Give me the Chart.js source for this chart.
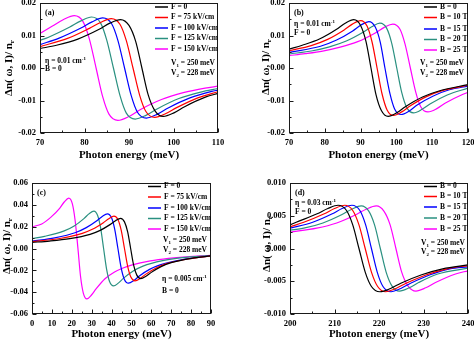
<!DOCTYPE html>
<html>
<head>
<meta charset="utf-8">
<script src="https://cdn.jsdelivr.net/npm/chart.js@4.4.1/dist/chart.umd.min.js"></script>
<style>
  html, body { margin: 0; padding: 0; background: #fff; }
  #wrap { position: relative; width: 474px; height: 341px; }
  #wrap canvas { position: absolute; left: 0; top: 0; }
</style>
</head>
<body>
<div id="wrap">
  <canvas id="pa" width="474" height="341"></canvas>
  <canvas id="pb" width="474" height="341"></canvas>
  <canvas id="pc" width="474" height="341"></canvas>
  <canvas id="pd" width="474" height="341"></canvas>
</div>
<script>
const fLabels = ['F = 0', 'F = 75 kV/cm', 'F = 100 kV/cm', 'F = 125 kV/cm', 'F = 150 kV/cm'];
const bLabels = ['B = 0', 'B = 10 T', 'B = 15 T', 'B = 20 T', 'B = 25 T'];
const colors = ['#000000', '#ff0000', '#0000ff', '#2a9080', '#ff00ff'];

// tick values and labels
const abYTicks = [-0.02, -0.01, 0, 0.01, 0.02];
const abYLabels = ['-0.02', '-0.01', '0.00', '0.01', '0.02'];
const cYTicks = [-0.06, -0.04, -0.02, 0, 0.02, 0.04, 0.06];
const cYLabels = ['-0.06', '-0.04', '-0.02', '0.00', '0.02', '0.04', '0.06'];
const dYTicks = [-0.01, -0.005, 0, 0.005, 0.01];
const dYLabels = ['-0.010', '-0.005', '0.000', '0.005', '0.010'];
const aXTicks = [70, 80, 90, 100, 110];
const bXTicks = [70, 80, 90, 100, 110, 120];
const cXTicks = [0, 10, 20, 30, 40, 50, 60, 70, 80, 90];
const dXTicks = [200, 210, 220, 230, 240];

// (a) eta = 0.01, B = 0, varying F   [energy meV, dn/n]
const a0   = [[70,0.0060],[73.7,0.0070],[78.5,0.0089],[83.3,0.0119],[85.7,0.0138],[88.1,0.0149],[90.0,0.0131],[91.5,0.0082],[92.9,0],[94.3,-0.0082],[95.8,-0.0131],[97.7,-0.0149],[100.1,-0.0138],[102.5,-0.0119],[107.3,-0.0089],[110,-0.0078]];
const a75  = [[70,0.0066],[76.2,0.0091],[81.1,0.0122],[83.6,0.0140],[86.0,0.0152],[88.0,0.0134],[89.4,0.0084],[90.9,0],[92.4,-0.0084],[93.8,-0.0134],[95.8,-0.0152],[98.3,-0.0140],[100.7,-0.0122],[105.6,-0.0091],[110,-0.0073]];
const a100 = [[70,0.0072],[74.3,0.0092],[79.2,0.0123],[81.7,0.0142],[84.1,0.0154],[86.1,0.0136],[87.5,0.0085],[89.0,0],[90.5,-0.0085],[91.9,-0.0136],[93.9,-0.0154],[96.4,-0.0142],[98.8,-0.0123],[103.7,-0.0092],[108.6,-0.0072],[110,-0.0068]];
const a125 = [[70,0.0085],[71.8,0.0094],[76.7,0.0126],[79.2,0.0145],[81.6,0.0157],[83.6,0.0139],[85.0,0.0086],[86.5,0],[88.0,-0.0086],[89.4,-0.0139],[91.4,-0.0157],[93.9,-0.0145],[96.3,-0.0126],[101.2,-0.0094],[106.1,-0.0074],[110,-0.0063]];
const a150 = [[70,0.0106],[72.8,0.0129],[75.3,0.0149],[77.7,0.0161],[79.7,0.0142],[81.1,0.0089],[82.6,0],[84.1,-0.0089],[85.5,-0.0142],[87.5,-0.0161],[90.0,-0.0149],[92.4,-0.0129],[97.3,-0.0097],[102.2,-0.0076],[107.1,-0.0062],[110,-0.0056]];

// (b) eta = 0.01, F = 0, varying B
const b0  = [[70,0.0058],[73.7,0.0070],[78.5,0.0089],[83.3,0.0119],[85.7,0.0138],[88.1,0.0149],[90.0,0.0131],[91.5,0.0082],[92.9,0],[94.3,-0.0082],[95.8,-0.0131],[97.7,-0.0149],[100.1,-0.0138],[102.5,-0.0119],[107.3,-0.0089],[112.1,-0.0070],[120,-0.0051]];
const b10 = [[70,0.0053],[76.2,0.0069],[80.8,0.0088],[85.4,0.0117],[87.7,0.0135],[90.0,0.0146],[91.8,0.0129],[93.2,0.0080],[94.6,0],[96.0,-0.0080],[97.4,-0.0129],[99.2,-0.0146],[101.5,-0.0135],[103.8,-0.0117],[108.4,-0.0088],[113.0,-0.0069],[120,-0.0053]];
const b15 = [[70,0.0048],[78.8,0.0067],[83.3,0.0086],[87.8,0.0114],[90.1,0.0132],[92.3,0.0143],[94.1,0.0126],[95.5,0.0079],[96.8,0],[98.2,-0.0079],[99.5,-0.0126],[101.3,-0.0143],[103.6,-0.0132],[105.8,-0.0114],[110.3,-0.0086],[114.8,-0.0067],[120,-0.0056]];
const b20 = [[70,0.0043],[76.6,0.0053],[81.3,0.0065],[86.0,0.0083],[90.7,0.0110],[93.1,0.0127],[95.4,0.0138],[97.3,0.0122],[98.7,0.0076],[100.1,0],[101.5,-0.0076],[102.9,-0.0122],[104.8,-0.0138],[107.2,-0.0127],[109.5,-0.0110],[114.2,-0.0083],[120,-0.0062]];
const b25 = [[70,0.0038],[74.5,0.0044],[79.4,0.0052],[84.3,0.0064],[89.2,0.0081],[94.1,0.0108],[96.6,0.0125],[99.0,0.0135],[101.0,0.0119],[102.4,0.0074],[103.9,0],[105.4,-0.0074],[106.8,-0.0119],[108.8,-0.0135],[111.3,-0.0125],[113.7,-0.0108],[118.6,-0.0081],[120,-0.0075]];

// (c) eta = 0.005, B = 0, varying F
const c0   = [[0,0.0056],[8.8,0.0068],[19.0,0.0090],[29.2,0.0130],[34.3,0.0166],[39.4,0.0221],[42.0,0.0255],[44.5,0.0276],[46.5,0.0244],[48.1,0.0152],[49.6,0],[51.1,-0.0152],[52.7,-0.0244],[54.7,-0.0276],[57.3,-0.0255],[59.8,-0.0221],[64.9,-0.0166],[70.0,-0.0130],[80.2,-0.0090],[90,-0.0068]];
const c75  = [[0,0.0062],[4.1,0.0070],[14.7,0.0094],[25.3,0.0139],[30.6,0.0178],[35.9,0.0237],[38.6,0.0273],[41.2,0.0296],[43.3,0.0261],[44.9,0.0163],[46.5,0],[48.1,-0.0163],[49.7,-0.0261],[51.8,-0.0296],[54.5,-0.0273],[57.1,-0.0237],[62.4,-0.0178],[67.7,-0.0139],[78.3,-0.0096],[90,-0.0068]];
const c100 = [[0,0.0068],[11.4,0.0098],[22.0,0.0147],[27.3,0.0191],[32.6,0.0254],[35.3,0.0294],[37.9,0.0318],[40.0,0.0281],[41.6,0.0175],[43.2,0],[44.8,-0.0175],[46.4,-0.0281],[48.5,-0.0318],[51.2,-0.0294],[53.8,-0.0254],[59.1,-0.0191],[64.4,-0.0150],[75.0,-0.0103],[90,-0.0067]];
const c125 = [[0,0.0090],[6.3,0.0111],[16.2,0.0161],[21.2,0.0206],[26.1,0.0274],[28.6,0.0317],[31.1,0.0343],[33.0,0.0303],[34.5,0.0189],[36.0,0],[37.5,-0.0189],[39.0,-0.0303],[41.0,-0.0343],[43.4,-0.0317],[45.9,-0.0274],[50.9,-0.0206],[55.8,-0.0161],[65.7,-0.0111],[75.6,-0.0084],[90,-0.0064]];
const c150 = [[0,0.0199],[4.9,0.0225],[9.4,0.0285],[14.0,0.0370],[16.2,0.0426],[18.5,0.0462],[20.3,0.0408],[21.7,0.0254],[23.1,0],[24.4,-0.0254],[25.8,-0.0408],[27.6,-0.0462],[29.9,-0.0426],[32.2,-0.0370],[36.7,-0.0277],[41.3,-0.0217],[45.8,-0.0178],[50.4,-0.0150],[59.5,-0.0114],[68.6,-0.0091],[77.7,-0.0076],[90,-0.0063]];

// (d) eta = 0.03, F = 0, varying B
const d0  = [[200,0.0036],[201.4,0.0040],[206.1,0.0053],[208.5,0.0061],[210.8,0.0066],[212.7,0.0058],[214.1,0.0036],[215.5,0],[216.9,-0.0036],[218.3,-0.0058],[220.2,-0.0066],[222.6,-0.0061],[224.9,-0.0053],[229.6,-0.0040],[234.3,-0.0031],[240,-0.0025]];
const d10 = [[200,0.0033],[203.1,0.0040],[207.7,0.0053],[210.0,0.0061],[212.3,0.0066],[214.1,0.0058],[215.5,0.0036],[216.9,0],[218.3,-0.0036],[219.7,-0.0058],[221.5,-0.0066],[223.8,-0.0061],[226.1,-0.0053],[230.7,-0.0040],[235.3,-0.0031],[240,-0.0026]];
const d15 = [[200,0.0031],[205.1,0.0040],[209.5,0.0053],[211.7,0.0061],[213.9,0.0066],[215.7,0.0058],[217.0,0.0036],[218.3,0],[219.6,-0.0036],[220.9,-0.0058],[222.7,-0.0066],[224.9,-0.0061],[227.1,-0.0053],[231.5,-0.0040],[235.9,-0.0031],[240,-0.0028]];
const d20 = [[200,0.0028],[203.1,0.0031],[207.4,0.0039],[211.7,0.0052],[213.9,0.0060],[216.0,0.0065],[217.7,0.0057],[219.0,0.0036],[220.3,0],[221.6,-0.0036],[222.9,-0.0057],[224.6,-0.0065],[226.8,-0.0060],[228.9,-0.0052],[233.2,-0.0039],[240,-0.0030]];
const d25 = [[200,0.0025],[206.0,0.0031],[210.5,0.0039],[214.9,0.0052],[217.1,0.0060],[219.4,0.0065],[221.1,0.0057],[222.5,0.0036],[223.8,0],[225.1,-0.0036],[226.5,-0.0057],[228.3,-0.0065],[230.5,-0.0060],[232.7,-0.0052],[237.2,-0.0039],[240,-0.0034]];

const SERIF = '"Liberation Serif", "Times New Roman", serif';

// text with sub/superscripts, drawn on the canvas
function rich(ctx, parts, x, y, size, align) {
  const big = `bold ${size}px ${SERIF}`, small = `bold ${(size * 0.65).toFixed(2)}px ${SERIF}`;
  let w = 0;
  parts.forEach(p => {
    ctx.font = typeof p === 'string' ? big : small;
    w += ctx.measureText(typeof p === 'string' ? p : p.t).width;
  });
  let cx = align === 'right' ? x - w : align === 'center' ? x - w / 2 : x;
  ctx.textAlign = 'left';
  ctx.textBaseline = 'middle';
  parts.forEach(p => {
    const s = typeof p === 'string';
    const t = s ? p : p.t;
    ctx.font = s ? big : small;
    const dy = s ? 0 : (p.sub ? size * 0.3 : -size * 0.35);
    ctx.fillText(t, cx, y + dy);
    cx += ctx.measureText(t).width;
  });
}

const deco = {
  id: 'deco',
  afterDraw(chart, args, o) {
    const { ctx, chartArea: ca, scales: { x, y } } = chart;
    ctx.save();
    const L = Math.round(ca.left) + 0.5, R = Math.round(ca.right) - 0.5;
    const T = Math.round(ca.top) + 0.5, B = Math.round(ca.bottom) - 0.5;
    ctx.strokeStyle = '#1a1a1a';
    ctx.lineWidth = 1;
    ctx.strokeRect(L, T, R - L, B - T);
    // inward major + minor ticks
    ctx.beginPath();
    x.ticks.forEach((t, i) => {
      const px = Math.round(x.getPixelForValue(t.value)) + 0.5;
      ctx.moveTo(px, B); ctx.lineTo(px, B - 4);
      if (i < x.ticks.length - 1) {
        const mx = Math.round(x.getPixelForValue((t.value + x.ticks[i + 1].value) / 2)) + 0.5;
        ctx.moveTo(mx, B); ctx.lineTo(mx, B - 2);
      }
    });
    y.ticks.forEach((t, i) => {
      const py = Math.round(y.getPixelForValue(t.value)) + 0.5;
      ctx.moveTo(L, py); ctx.lineTo(L + 4, py);
      if (i < y.ticks.length - 1) {
        const my = Math.round(y.getPixelForValue((t.value + y.ticks[i + 1].value) / 2)) + 0.5;
        ctx.moveTo(L, my); ctx.lineTo(L + 2, my);
      }
    });
    ctx.stroke();

    ctx.fillStyle = '#000';
    // legend inside the plot
    const lg = o.legend;
    chart.data.datasets.forEach((ds, i) => {
      const ly = lg.ys[i];
      ctx.strokeStyle = ds.borderColor;
      ctx.lineWidth = 1.5;
      ctx.beginPath(); ctx.moveTo(lg.x0, ly); ctx.lineTo(lg.x1, ly); ctx.stroke();
      rich(ctx, [ds.label], lg.tx, ly, 7.5, 'left');
    });
    o.texts.forEach(t => rich(ctx, t.parts, t.x, t.y, t.size || 7.5, t.align || 'left'));

    // y axis title, rotated
    ctx.save();
    ctx.translate(o.yTitle.x, o.yTitle.y);
    ctx.rotate(-Math.PI / 2);
    rich(ctx, ['\u0394n( \u03c9, I)/ n', { t: 'r', sub: true }], 0, 0, 11, 'center');
    ctx.restore();
    ctx.restore();
  }
};

function panel(id, o) {
  new Chart(document.getElementById(id), {
    type: 'line',
    data: {
      datasets: o.series.map((d, i) => ({
        label: o.labels[i], data: d, borderColor: colors[i], backgroundColor: colors[i],
        borderWidth: 1.2, pointRadius: 0, cubicInterpolationMode: 'monotone', fill: false
      }))
    },
    options: {
      responsive: false, animation: false, events: [],
      layout: { padding: { left: 0, top: o.area[1], right: 474 - o.area[2], bottom: 341 - o.area[3] - o.xh } },
      plugins: { legend: { display: false }, tooltip: { enabled: false }, deco: o.deco },
      scales: {
        x: {
          type: 'linear', min: o.xt[0], max: o.xt[o.xt.length - 1],
          grid: { display: false, drawTicks: false }, border: { display: false },
          afterBuildTicks: s => { s.ticks = o.xt.map(v => ({ value: v })); },
          ticks: { padding: 5, autoSkip: false, maxRotation: 0, color: '#000',
                   callback: (v, i) => String(o.xt[i]),
                   font: { family: SERIF, size: 8.5, weight: 'bold' } },
          title: { display: true, text: 'Photon energy (meV)', color: '#000', padding: 0,
                   font: { family: SERIF, size: 11, weight: 'bold' } },
          afterFit: s => { s.height = o.xh; s.paddingLeft = 0; s.paddingRight = 0; }
        },
        y: {
          type: 'linear', min: o.yt[0], max: o.yt[o.yt.length - 1],
          grid: { display: false, drawTicks: false }, border: { display: false },
          afterBuildTicks: s => { s.ticks = o.yt.map(v => ({ value: v })); },
          ticks: { padding: 4, autoSkip: false, color: '#000',
                   callback: (v, i) => o.yl[i],
                   font: { family: SERIF, size: 8.5, weight: 'bold' } },
          afterFit: s => { s.width = o.area[0]; s.paddingTop = 0; s.paddingBottom = 0; }
        }
      }
    },
    plugins: [deco]
  });
}

const V1 = ['V', { t: '1', sub: true }, ' = 250 meV'];
const V2 = ['V', { t: '2', sub: true }, ' = 228 meV'];

panel('pa', {
  series: [a0, a75, a100, a125, a150], labels: fLabels,
  area: [40, 3, 218, 133], xh: 29, xt: aXTicks, yt: abYTicks, yl: abYLabels,
  deco: {
    legend: { x0: 155, x1: 168, tx: 171, ys: [7, 17.5, 28, 38.5, 49] },
    yTitle: { x: 9, y: 68 },
    texts: [
      { x: 45, y: 13, parts: ['(a)'], size: 8 },
      { x: 45, y: 61, parts: ['\u03b7 = 0.01 cm', { t: '-1', sup: true }] },
      { x: 45, y: 69.5, parts: ['B = 0'] },
      { x: 215, y: 63, parts: V1, align: 'right' },
      { x: 215, y: 73, parts: V2, align: 'right' }
    ]
  }
});

panel('pb', {
  series: [b0, b10, b15, b20, b25], labels: bLabels,
  area: [289, 3, 468, 133], xh: 29, xt: bXTicks, yt: abYTicks, yl: abYLabels,
  deco: {
    legend: { x0: 424, x1: 437, tx: 440, ys: [7, 17.5, 29, 39.5, 50] },
    yTitle: { x: 266, y: 67 },
    texts: [
      { x: 294, y: 13, parts: ['(b)'], size: 8 },
      { x: 294, y: 24, parts: ['\u03b7 = 0.01 cm', { t: '-1', sup: true }] },
      { x: 294, y: 33, parts: ['F = 0'] },
      { x: 464, y: 63, parts: V1, align: 'right' },
      { x: 464, y: 73, parts: V2, align: 'right' }
    ]
  }
});

panel('pc', {
  series: [c0, c75, c100, c125, c150], labels: fLabels,
  area: [32, 183, 211, 314], xh: 27, xt: cXTicks, yt: cYTicks, yl: cYLabels,
  deco: {
    legend: { x0: 148, x1: 161, tx: 164, ys: [186.5, 197, 208, 218.5, 229] },
    yTitle: { x: 7, y: 246 },
    texts: [
      { x: 37, y: 193, parts: ['(c)'], size: 8 },
      { x: 163, y: 240, parts: V1 },
      { x: 163, y: 250.5, parts: V2 },
      { x: 162, y: 279, parts: ['\u03b7 = 0.005 cm', { t: '-1', sup: true }] },
      { x: 162, y: 291, parts: ['B = 0'] }
    ]
  }
});

panel('pd', {
  series: [d0, d10, d15, d20, d25], labels: bLabels,
  area: [290, 183, 468, 314], xh: 27, xt: dXTicks, yt: dYTicks, yl: dYLabels,
  deco: {
    legend: { x0: 424, x1: 437, tx: 440, ys: [186.5, 196.5, 207, 218, 229] },
    yTitle: { x: 267, y: 244 },
    texts: [
      { x: 295, y: 193, parts: ['(d)'], size: 8 },
      { x: 295, y: 203, parts: ['\u03b7 = 0.03 cm', { t: '-1', sup: true }] },
      { x: 295, y: 212, parts: ['F = 0'] },
      { x: 465, y: 243, parts: V1, align: 'right' },
      { x: 465, y: 252, parts: V2, align: 'right' }
    ]
  }
});
</script>
</body>
</html>
